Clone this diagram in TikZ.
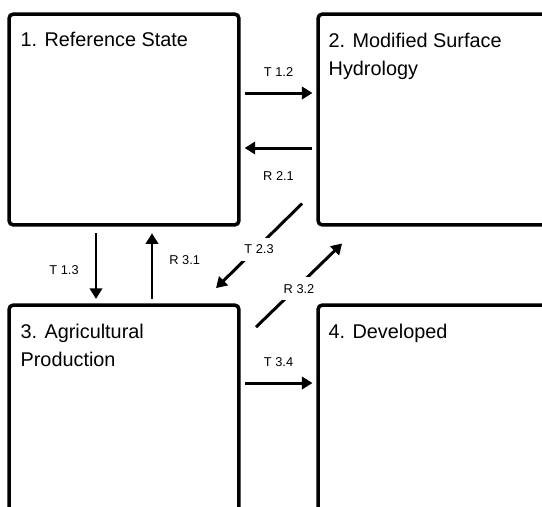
\documentclass[tikz,border=0pt]{standalone}
\usepackage{fontspec}
\setmainfont{Liberation Sans}
\usetikzlibrary{arrows.meta,calc}

\begin{document}
\begin{tikzpicture}[scale=0.02,
	box/.style={draw, line width=2pt, rounded corners=2.5pt, inner sep=0pt},
	title/.style={anchor=north west, inner sep=0pt, align=left, font=\fontsize{11.3}{16.4}\selectfont},
	conn/.style={line width=1.7pt, -{Triangle[length=6pt,width=7pt]}},
	gap/.style={shorten <=2.5pt, shorten >=2.2pt},
	lbl/.style={inner sep=0pt, font=\fontsize{7.3}{8.8}\selectfont}]
			\useasboundingbox (0,0) rectangle (542,-506);
			\clip (0,0) rectangle (542,-506);
			\node [box, minimum width=4.6cm, minimum height=4.22cm] (box1) at (124,-119.5) {};
			\node [box, minimum width=4.84cm, minimum height=4.22cm] (box2) at (439,-119.5) {};
			\node [box, minimum width=4.6cm, minimum height=4.7cm] (box3) at (124,-422.5) {};
			\node [box, minimum width=4.84cm, minimum height=4.7cm] (box4) at (439,-422.5) {};
			\node [title] (name1) at ($(box1.north west)+(13,-20)$) {1. Reference State};
			\node [title] (name2) at ($(box2.north west)+(12,-20)$) {2. Modified Surface\\Hydrology};
			\node [title] (name3) at ($(box3.north west)+(13,-20)$) {3. Agricultural\\Production};
			\node [title] (name4) at ($(box4.north west)+(12,-20)$) {4. Developed};
			\draw [conn, gap] (box1.east |- 0,-93) -- (box2.west |- 0,-93) node [lbl, midway, above=8.6pt] (t12) {T 1.2};
			\draw [conn, gap] (box2.west |- 0,-148) -- (box1.east |- 0,-148) node [lbl, midway, below=12.6pt] (r21) {R 2.1};
			\draw [conn, shorten <=3.7pt, shorten >=2.5pt] (box1.south -| 96,0) -- (box3.north -| 96,0) node [lbl, midway, left=9pt, yshift=-2.8pt] (t13) {T 1.3};
			\draw [conn, shorten <=2.5pt, shorten >=3.7pt] (box3.north -| 152,0) -- (box1.south -| 152,0) node [lbl, midway, right=9pt, yshift=2.8pt] (r31) {R 3.1};
			\draw [conn] ($(box2.south west)+(-14.25,23.25)$) -- ($(box3.north east)+(-24.75,15.25)$) node [lbl, midway, fill=white, inner sep=4pt, yshift=-2pt] (t23) {T 2.3};
			\draw [conn] ($(box3.north east)+(15.25,-23.75)$) -- ($(box2.south west)+(25.75,-16.75)$) node [lbl, midway, fill=white, inner sep=4pt, yshift=-2pt] (r32) {R 3.2};
			\draw [conn, gap] (box3.east |- 0,-383) -- (box4.west |- 0,-383) node [lbl, midway, above=8.6pt] (t34) {T 3.4};
\end{tikzpicture}
\end{document}
